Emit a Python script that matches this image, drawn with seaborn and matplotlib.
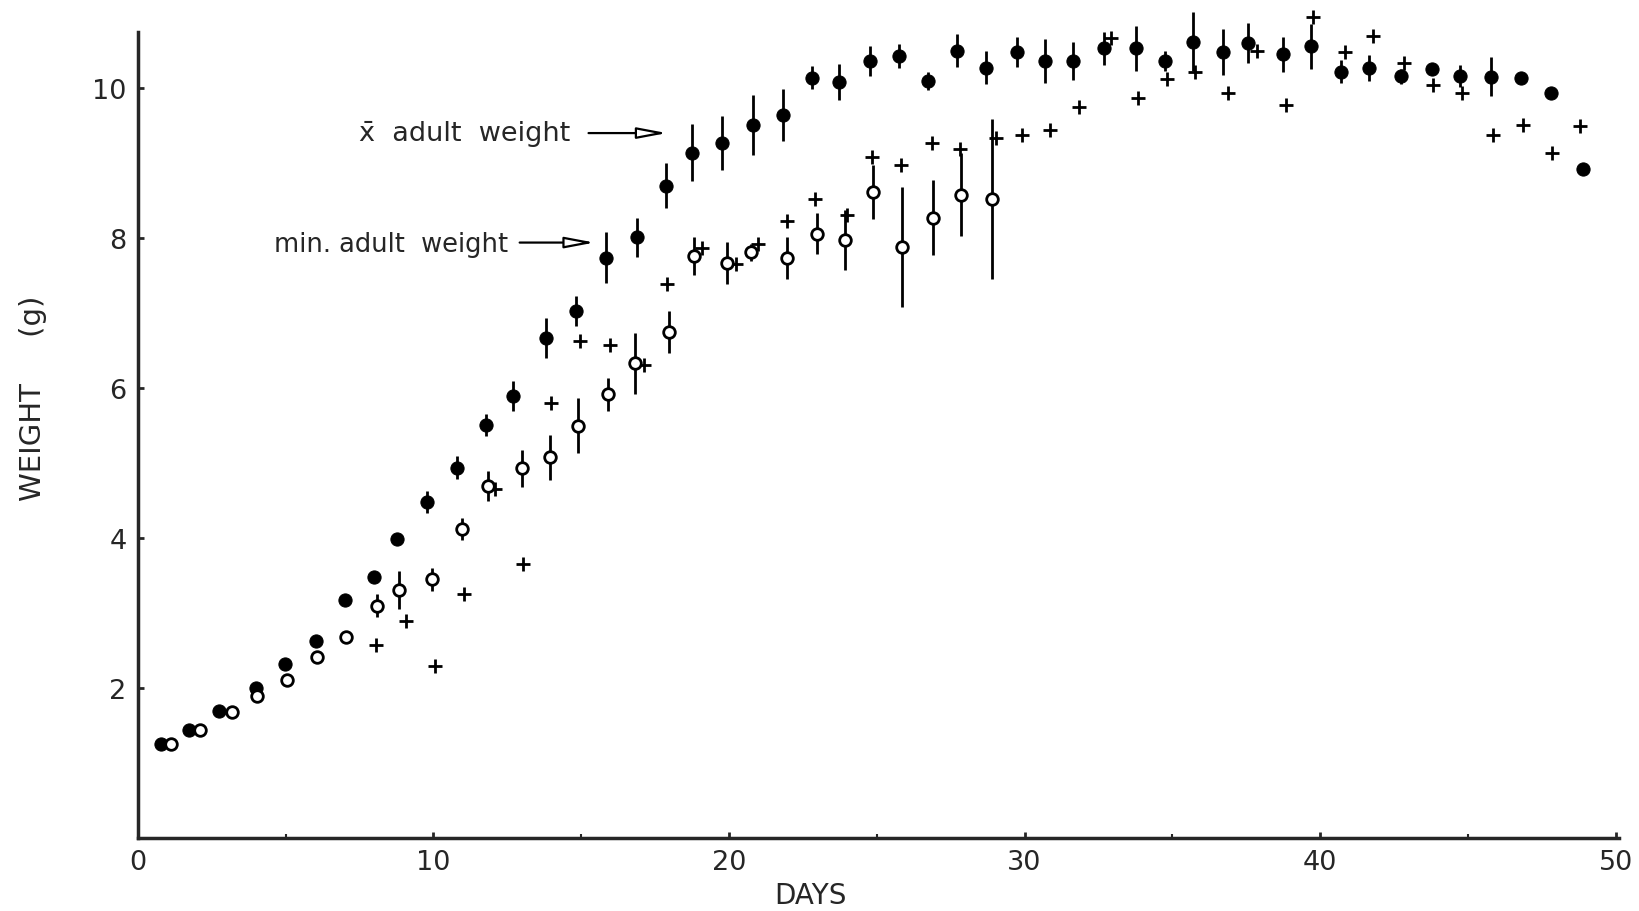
import numpy as np
import pandas as pd
import matplotlib
matplotlib.use("Agg")
import matplotlib.pyplot as plt
import seaborn as sns

# mean weight (filled circles)
mean_day = [0.78, 1.73, 2.76, 4.0, 4.99, 6.02, 7.0, 8.0, 8.78, 9.8, 10.79, 11.78, 12.7,
            13.8, 14.83, 15.85, 16.88, 17.87, 18.75, 19.75, 20.8, 21.83, 22.82, 23.74,
            24.77, 25.76, 26.75, 27.7, 28.7, 29.76, 30.7, 31.63, 32.7, 33.76, 34.75,
            35.7, 36.7, 37.55, 38.75, 39.7, 40.7, 41.65, 42.75, 43.77, 44.73, 45.79,
            46.8, 47.8, 48.9]
mean_wt = [1.26, 1.44, 1.69, 2.0, 2.32, 2.63, 3.18, 3.48, 3.99, 4.48, 4.94, 5.51, 5.89,
           6.67, 7.03, 7.74, 8.01, 8.70, 9.14, 9.27, 9.51, 9.64, 10.14, 10.08, 10.36,
           10.43, 10.09, 10.50, 10.27, 10.48, 10.36, 10.36, 10.53, 10.53, 10.36, 10.62,
           10.48, 10.60, 10.45, 10.56, 10.22, 10.27, 10.16, 10.26, 10.16, 10.15, 10.14,
           9.94, 8.92]
mean_err = [0, 0, 0, 0, 0, 0, 0, 0, 0, 0.15, 0.15, 0.15, 0.2, 0.27, 0.2, 0.34, 0.26,
            0.3, 0.38, 0.36, 0.4, 0.35, 0.15, 0.24, 0.2, 0.16, 0.12, 0.22, 0.22, 0.2,
            0.29, 0.25, 0.22, 0.3, 0.13, 0.39, 0.31, 0.27, 0.23, 0.3, 0.15, 0.17, 0.1,
            0, 0.15, 0.26, 0, 0, 0]

# minimum adult weight (open circles)
min_day = [1.13, 2.12, 3.18, 4.03, 5.06, 6.05, 7.04, 8.1, 8.85, 9.94, 10.97, 11.85,
           12.99, 13.94, 14.9, 15.92, 16.81, 17.98, 18.83, 19.92, 20.74, 21.97, 22.97,
           23.92, 24.88, 25.87, 26.9, 27.85, 28.9]
min_wt = [1.26, 1.44, 1.68, 1.90, 2.11, 2.42, 2.68, 3.10, 3.31, 3.45, 4.12, 4.69, 4.93,
          5.08, 5.50, 5.92, 6.33, 6.75, 7.76, 7.67, 7.81, 7.74, 8.06, 7.98, 8.61, 7.88,
          8.27, 8.58, 8.52]
min_err = [0, 0, 0, 0, 0, 0, 0, 0.15, 0.25, 0.15, 0.15, 0.2, 0.25, 0.3, 0.37, 0.22,
           0.41, 0.28, 0.25, 0.28, 0.11, 0.28, 0.27, 0.4, 0.36, 0.8, 0.5, 0.55, 1.07]

# crosses
cross_day = [8.07, 9.09, 10.05, 11.04, 12.1, 13.02, 13.98, 14.97, 15.96, 17.13, 17.9,
             19.1, 20.24, 20.98, 21.97, 22.9, 23.99, 24.84, 25.83, 26.86, 27.81, 29.05,
             29.9, 30.86, 31.85, 32.94, 33.83, 34.82, 35.77, 36.87, 37.86, 38.85, 39.77,
             40.84, 41.8, 42.85, 43.81, 44.8, 45.86, 46.85, 47.84, 48.8]
cross_wt = [2.58, 2.89, 2.29, 3.25, 4.66, 3.66, 5.80, 6.63, 6.58, 6.31, 7.39, 7.87, 7.66,
            7.92, 8.23, 8.52, 8.31, 9.08, 8.97, 9.27, 9.19, 9.33, 9.38, 9.44, 9.75, 10.67,
            9.87, 10.12, 10.21, 9.94, 10.50, 9.78, 10.95, 10.48, 10.70, 10.33, 10.04,
            9.93, 9.37, 9.51, 9.13, 9.49]

x_ticks = [0, 10, 20, 30, 40, 50]
y_ticks = [2, 4, 6, 8, 10]

df_mean = pd.DataFrame({"day": mean_day, "weight": mean_wt, "err": mean_err})
df_min = pd.DataFrame({"day": min_day, "weight": min_wt, "err": min_err})
df_cross = pd.DataFrame({"day": cross_day, "weight": cross_wt})

sns.set_style("ticks")
plt.rcParams["font.family"] = ["DejaVu Sans"]

fig = plt.figure(figsize=(16.4, 9.12), dpi=100)
ax = fig.add_axes([0.084, 0.080, 0.903, 0.884])

# error bars
for d in (df_mean, df_min):
    e = d[d["err"] > 0]
    eb = ax.errorbar(e["day"], e["weight"], yerr=e["err"], fmt="none",
                     ecolor="black", elinewidth=2, capsize=0, zorder=2)
    for c in eb.lines[2]:
        c.set_clip_on(False)

sns.scatterplot(data=df_cross, x="day", y="weight", marker="+", s=110,
                color="black", linewidth=2, ax=ax, zorder=3, clip_on=False)
sns.scatterplot(data=df_mean, x="day", y="weight", marker="o", s=90,
                color="black", edgecolor="black", ax=ax, zorder=4, clip_on=False)
sns.scatterplot(data=df_min, x="day", y="weight", marker="o", s=70,
                facecolor="white", edgecolor="black", linewidth=2, ax=ax, zorder=4,
                clip_on=False)

arrow = dict(arrowstyle="-|>,head_length=0.9,head_width=0.17", fc="white",
             ec="black", lw=1.6, shrinkA=0, shrinkB=0, mutation_scale=20)
ax.text(7.5, 9.40, "x\u0304  adult  weight", fontsize=19.5, va="center", ha="left")
ax.annotate("", xy=(17.9, 9.40), xytext=(15.25, 9.40), arrowprops=arrow)
ax.text(4.6, 7.92, "min. adult  weight", fontsize=18.5, va="center", ha="left")
ax.annotate("", xy=(15.45, 7.94), xytext=(12.92, 7.94), arrowprops=arrow)

ax.set_xlim(0, 50.1)
ax.set_ylim(0, 10.75)
ax.set_xticks(x_ticks)
ax.set_xticks([5, 15, 25, 35, 45], minor=True)
ax.set_yticks(y_ticks)
ax.tick_params(axis="both", direction="in", length=4, width=2, labelsize=19.5, pad=8)
ax.tick_params(axis="x", which="minor", direction="in", length=3, width=1.5)
for sp in ["top", "right"]:
    ax.spines[sp].set_visible(False)
for sp in ["left", "bottom"]:
    ax.spines[sp].set_linewidth(2.5)
ax.set_xlabel("")
ax.set_ylabel("")

fig.text(0.494, 0.018, "DAYS", fontsize=20, ha="center", va="center")
fig.text(0.020, 0.563, "WEIGHT     (g)", fontsize=21, ha="center", va="center",
         rotation=90)

fig.savefig("out.png", dpi=100, facecolor="white")
